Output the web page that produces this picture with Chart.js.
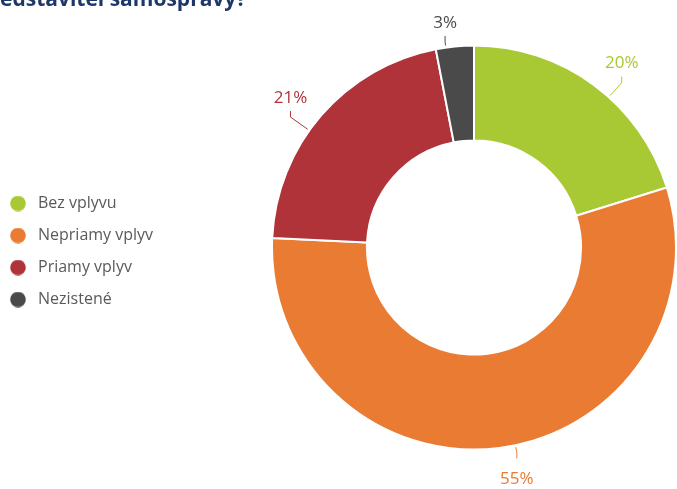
<!DOCTYPE html>
<html>
<head>
<meta charset="utf-8">
<script src="https://cdn.jsdelivr.net/npm/chart.js@4.4.1/dist/chart.umd.min.js"></script>
<style>
  html, body { margin: 0; padding: 0; background: #fff; overflow: hidden; }
  #wrap { position: relative; width: 677px; height: 489px; }
  #title { position: absolute; left: 0; top: -16px; font: bold 21px "Open Sans", sans-serif; color: #1d3768; white-space: nowrap; }
</style>
</head>
<body>
<div id="wrap">
  <div id="title">edstavitel samosprávy?</div>
  <canvas id="donut" width="677" height="489"></canvas>
</div>
<script>
const categories = ['Bez vplyvu', 'Nepriamy vplyv', 'Priamy vplyv', 'Nezistené'];
const shares = [20, 55, 21, 3];
const colors = ['#a9c934', '#e97b33', '#b0333a', '#4a4a4a'];

// round legend markers as small canvases so the gap to the text can be wider
function dot(color) {
    const c = document.createElement('canvas');
    c.width = 16;
    c.height = 16;
    const g = c.getContext('2d');
    g.fillStyle = color;
    g.beginPath();
    g.arc(8, 8, 7.8, 0, Math.PI * 2);
    g.fill();
    return c;
}
const dots = colors.map(dot);

// percent labels outside the ring with a short leader line
const outsideLabels = {
    id: 'outsideLabels',
    afterDatasetsDraw(chart) {
        const ctx = chart.ctx;
        const meta = chart.getDatasetMeta(0);
        ctx.save();
        ctx.font = '17px "Open Sans", sans-serif';
        ctx.textAlign = 'center';
        ctx.textBaseline = 'middle';
        ctx.lineWidth = 1;
        meta.data.forEach(function(arc, i) {
            const p = arc.getProps(['x', 'y', 'startAngle', 'endAngle', 'outerRadius'], true);
            let a = (p.startAngle + p.endAngle) / 2;
            // nudge the anchor towards the horizontal, less when close to vertical
            const d = Math.abs(Math.asin(Math.abs(Math.cos(a)))) * 180 / Math.PI;
            const shift = 5.5 * Math.min(1, Math.pow(d / 8, 2));
            a -= Math.sign(Math.sin(2 * a)) * shift * Math.PI / 180;
            const cos = Math.cos(a), sin = Math.sin(a);
            const leg = 26 * Math.abs(cos);
            const x1 = p.x + cos * (p.outerRadius + 2), y1 = p.y + sin * (p.outerRadius + 2);
            const x2 = x1 + cos * leg, y2 = y1 + sin * leg;
            const dir = sin < 0 ? -1 : 1;
            const y3 = y2 + dir * 6;
            ctx.strokeStyle = colors[i];
            ctx.beginPath();
            ctx.moveTo(x1, y1);
            ctx.lineTo(x2, y2);
            ctx.lineTo(x2, y3);
            ctx.stroke();
            ctx.fillStyle = colors[i];
            ctx.fillText(shares[i] + '%', x2, y3 + dir * 17 + 4);
        });
        ctx.restore();
    }
};

// fixed legend column width so the ring sits on the right
const legendPlace = {
    id: 'legendPlace',
    beforeInit(chart) {
        const fit = chart.legend.fit;
        chart.legend.fit = function() {
            fit.call(chart.legend);
            this.width = 281;
        };
    },
    afterLayout(chart) {
        chart.legend.top += 4;
        chart.legend.bottom += 4;
    }
};

const baseLabels = Chart.overrides.doughnut.plugins.legend.labels.generateLabels;

new Chart(document.getElementById('donut'), {
    type: 'doughnut',
    data: {
        labels: categories,
        datasets: [{
            data: shares,
            backgroundColor: colors,
            borderColor: '#ffffff',
            borderWidth: 2,
            hoverOffset: 0
        }]
    },
    options: {
        responsive: false,
        animation: false,
        cutout: '53%',
        layout: { padding: { top: 43, bottom: 37, left: -10, right: 0 } },
        plugins: {
            legend: {
                position: 'left',
                labels: {
                    usePointStyle: true,
                    pointStyleWidth: 24,
                    boxHeight: 16,
                    padding: 16,
                    color: '#5a5a5a',
                    font: { family: '"Open Sans", sans-serif', size: 16 },
                    generateLabels(chart) {
                        return baseLabels(chart).map(function(item, i) {
                            item.pointStyle = dots[i];
                            return item;
                        });
                    }
                }
            },
            tooltip: { enabled: false }
        }
    },
    plugins: [outsideLabels, legendPlace]
});
</script>
</body>
</html>
